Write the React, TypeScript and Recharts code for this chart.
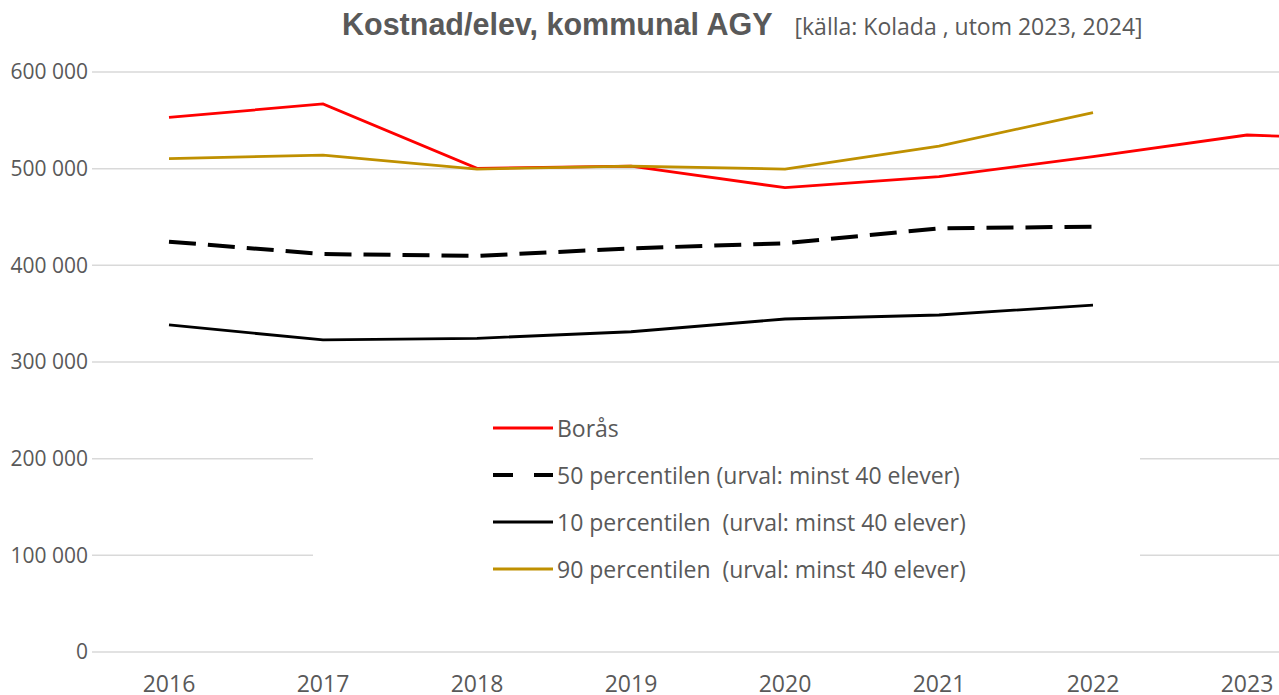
import { LineChart, Line, XAxis, YAxis, CartesianGrid, Legend } from "recharts"

// years on the x axis (2024 falls outside the visible picture)
const years = ["2016", "2017", "2018", "2019", "2020", "2021", "2022", "2023", "2024"]

// cost per pupil
const boras = [553000, 567000, 500300, 502700, 480300, 491700, 512400, 534800, 529500]
const p50 = [424500, 411700, 409700, 417600, 422800, 438300, 440000, null, null]
const p10 = [338300, 322800, 324500, 331300, 344500, 348600, 358900, null, null]
const p90 = [510300, 514100, 499600, 502700, 499600, 523400, 557900, null, null]

const yTicks = [0, 100000, 200000, 300000, 400000, 500000, 600000]

const series = [
  { key: "boras", name: "Borås", color: "#FF0000", width: 2.8, dash: undefined, iconDash: undefined },
  { key: "p50", name: "50 percentilen (urval: minst 40 elever)", color: "#000000", width: 4, dash: "27 12", iconDash: "20 21" },
  { key: "p10", name: "10 percentilen  (urval: minst 40 elever)", color: "#000000", width: 2.8, dash: undefined, iconDash: undefined },
  { key: "p90", name: "90 percentilen  (urval: minst 40 elever)", color: "#BF9000", width: 2.8, dash: undefined, iconDash: undefined },
]

const data = years.map((year, i) => ({
  year,
  boras: boras[i],
  p50: p50[i],
  p10: p10[i],
  p90: p90[i],
}))

const formatThousands = (v: number) => String(v).replace(/\B(?=(\d{3})+(?!\d))/g, " ")

const font = "'Open Sans', sans-serif"
const textGray = "#595959"

function LegendBox() {
  return (
    <div style={{ paddingTop: 12, paddingLeft: 180, textAlign: "left" }}>
      {series.map((s) => (
        <div key={s.key} style={{ display: "flex", alignItems: "center", height: 47 }}>
          <svg width={62} height={10} style={{ marginRight: 2 }}>
            <line x1={0} y1={5} x2={60} y2={5} stroke={s.color} strokeWidth={s.key === "p50" ? 4 : 3} strokeDasharray={s.iconDash} />
          </svg>
          <span style={{ fontFamily: font, fontSize: 23, color: textGray, whiteSpace: "pre" }}>{s.name}</span>
        </div>
      ))}
    </div>
  )
}

export default function App() {
  return (
    <div style={{ position: "absolute", left: 0, top: 0, width: 1279, height: 695, overflow: "hidden", background: "#fff" }}>
      <div style={{ position: "absolute", left: 342, top: 7, whiteSpace: "nowrap", color: textGray }}>
        <span style={{ fontFamily: "'Liberation Sans', Arial, sans-serif", fontWeight: "bold", fontSize: 30.5 }}>
          Kostnad/elev, kommunal AGY
        </span>
        <span style={{ fontFamily: font, fontSize: 23, marginLeft: 22 }}>[källa: Kolada , utom 2023, 2024]</span>
      </div>
      <LineChart width={1480} height={695} data={data} margin={{ top: 72, right: 2, bottom: 0, left: 0 }}>
        <CartesianGrid vertical={false} stroke="#D9D9D9" strokeWidth={1.5} />
        <XAxis
          dataKey="year"
          height={43}
          axisLine={false}
          tickLine={false}
          tickSize={0}
          tickMargin={24}
          padding={{ left: 77, right: 77 }}
          tick={{ fill: textGray, fontFamily: font, fontSize: 23 }}
          interval={0}
        />
        <YAxis
          width={92}
          domain={[0, 600000]}
          ticks={yTicks}
          axisLine={false}
          tickLine={false}
          tickSize={0}
          tickMargin={4}
          tickFormatter={formatThousands}
          tick={{ fill: textGray, fontFamily: font, fontSize: 21 }}
        />
        <Legend
          layout="horizontal"
          verticalAlign="middle"
          align="center"
          content={() => <LegendBox />}
          wrapperStyle={{ left: 313, top: 392, width: 827, height: 205, background: "#fff" }}
        />
        {series.map((s) => (
          <Line
            key={s.key}
            dataKey={s.key}
            name={s.name}
            stroke={s.color}
            strokeWidth={s.width}
            strokeDasharray={s.dash}
            dot={false}
            activeDot={false}
            connectNulls={false}
            isAnimationActive={false}
          />
        ))}
      </LineChart>
    </div>
  )
}
